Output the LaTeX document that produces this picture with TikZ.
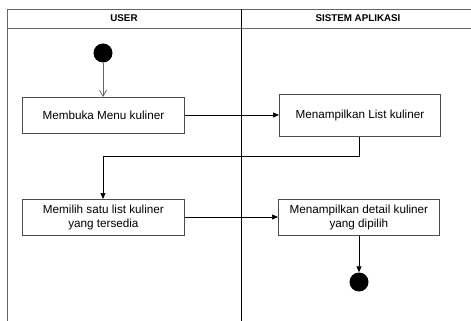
\documentclass[tikz,border=0pt]{standalone}
\usepackage{fontspec}
\setmainfont{Liberation Sans}
\usetikzlibrary{arrows.meta}
\begin{document}
\begin{tikzpicture}[x=1pt,y=-1pt,
  frame/.style={draw=black!60,line width=0.9pt},
  actbox/.style={draw=black!70,line width=0.8pt,minimum width=162pt,minimum height=36pt,
    inner sep=0pt,align=center,font=\fontsize{11.7}{13.2}\selectfont,anchor=north west},
  lanehead/.style={font=\bfseries\fontsize{9.8}{11}\selectfont},
  flow/.style={draw=black,line width=0.7pt,-{Triangle[length=6pt,width=5pt]}},
  openflow/.style={draw=black!60,line width=0.8pt,-{Straight Barb[length=6pt,width=7pt]}},
  dot/.style={circle,fill=black,inner sep=0pt,minimum size=19pt}]
\useasboundingbox (0,0) rectangle (471,321);
\fill[white] (0,0) rectangle (471,321);
% swimlane frame
\draw[frame] (7,321) -- (7,9) -- (471,9);
\draw[frame] (7,28) -- (471,28);
\draw[black,line width=0.8pt] (241,9) -- (241,321);
\node[lanehead] (hu) at (124,18.5) {USER};
\node[lanehead] (hs) at (358,18.5) {SISTEM APLIKASI};
% activities
\node[dot] (start) at (103,53) {};
\node[actbox] (a1) at (22,97) {Membuka Menu kuliner};
\node[actbox,minimum width=161pt,minimum height=42pt] (a2) at (279,94) {Menampilkan List kuliner};
\node[actbox] (a3) at (22,199) {Memilih satu list kuliner\\yang tersedia};
\node[actbox,minimum width=161pt] (a4) at (278,199) {Menampilkan detail kuliner\\yang dipilih};
\node[dot] (stop) at (359,282) {};
% control flow
\draw[openflow] (start) -- (a1.north -| start);
\draw[flow] (a1.east |- 0,115) -- (a2.west |- 0,115);
\coordinate (bend) at (359,156);
\draw[flow] (a2.south -| bend) -- (bend) -- (103,156) -- (a3.north -| start);
\draw[flow] (a3.east |- 0,217) -- (a4.west |- 0,217);
\draw[flow] (a4.south -| stop) -- (stop);
\end{tikzpicture}
\end{document}
